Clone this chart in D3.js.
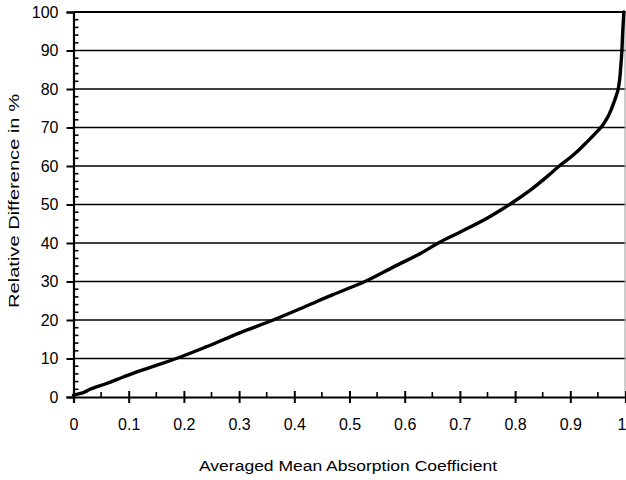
<!DOCTYPE html>
<html>
<head>
<meta charset="utf-8">
<script src="https://cdn.jsdelivr.net/npm/d3@7/dist/d3.min.js"></script>
<style>
  html, body { margin: 0; padding: 0; background: #fff; }
  svg { display: block; font-family: "Liberation Sans", Arial, Helvetica, sans-serif; }
</style>
</head>
<body>
<svg id="chart" width="626" height="480"></svg>
<script>
// Cumulative curve: relative difference (%) vs averaged mean absorption coefficient
const absorptionCoef = [0, 0.015, 0.03, 0.06, 0.09, 0.12, 0.15, 0.19, 0.24, 0.30, 0.362,
  0.42, 0.47, 0.528, 0.58, 0.63, 0.661, 0.70, 0.75, 0.79, 0.83, 0.86, 0.88, 0.90,
  0.915, 0.93, 0.945, 0.957, 0.967, 0.975, 0.981, 0.986, 0.989, 0.991, 0.9935, 0.995, 0.997];
const relativeDiff = [0.5, 1.0, 2.0, 3.5, 5.2, 6.8, 8.2, 10.2, 13.0, 16.6, 20,
  23.5, 26.6, 30, 33.8, 37.4, 40, 42.8, 46.5, 50, 54, 57.5, 60, 62.2,
  64.1, 66.2, 68.4, 70.3, 72.5, 75, 77.3, 79.5, 82, 85, 90, 95, 100];

const xTicks = [0, 0.1, 0.2, 0.3, 0.4, 0.5, 0.6, 0.7, 0.8, 0.9, 1];
const xTickLabels = ["0", "0.1", "0.2", "0.3", "0.4", "0.5", "0.6", "0.7", "0.8", "0.9", "1"];
const yTicks = [0, 10, 20, 30, 40, 50, 60, 70, 80, 90, 100];

const xTitle = "Averaged Mean Absorption Coefficient";
const yTitle = "Relative Difference in  %";

(function draw() {
  const svg = d3.select("#chart");
  const plotL = 73.5, plotR = 625.5, plotT = 12, plotB = 397;

  const x = d3.scaleLinear().domain([0, 1]).range([plotL, plotR]);
  const y = d3.scaleLinear().domain([0, 100]).range([plotB, plotT]);

  // horizontal gridlines
  svg.append("g").selectAll("line")
    .data(yTicks.filter(d => d > 0 && d < 100))
    .join("line")
    .attr("x1", plotL).attr("x2", plotR)
    .attr("y1", d => y(d)).attr("y2", d => y(d))
    .attr("stroke", "#000").attr("stroke-width", 1.5);

  // top frame line and thin right frame line
  svg.append("line").attr("x1", plotL).attr("x2", plotR)
    .attr("y1", y(100)).attr("y2", y(100))
    .attr("stroke", "#000").attr("stroke-width", 2.2);
  svg.append("line").attr("x1", plotR - 0.5).attr("x2", plotR - 0.5)
    .attr("y1", plotT).attr("y2", plotB)
    .attr("stroke", "#999").attr("stroke-width", 1);

  // y axis: major ticks outside, minor ticks inside every 2 %
  const yAxis = svg.append("g").attr("transform", `translate(${plotL},0)`)
    .call(d3.axisLeft(y).tickValues(yTicks).tickSize(7).tickPadding(8).tickFormat(d3.format("d")));
  yAxis.select(".domain").attr("stroke-width", 2.2);
  yAxis.selectAll(".tick line").attr("stroke-width", 2);
  yAxis.selectAll(".tick text").attr("font-size", 16).attr("fill", "#000")
    .attr("font-family", "Liberation Sans, Arial, sans-serif");

  const yMinor = d3.range(0, 101, 2).filter(d => d % 10 !== 0);
  svg.append("g").selectAll("line").data(yMinor).join("line")
    .attr("x1", plotL).attr("x2", plotL + 5)
    .attr("y1", d => y(d)).attr("y2", d => y(d))
    .attr("stroke", "#000").attr("stroke-width", 1.6);

  // x axis: major ticks cross the axis, minor ticks point up
  const xAxis = svg.append("g").attr("transform", `translate(0,${plotB})`)
    .call(d3.axisBottom(x).tickValues(xTicks).tickSize(6).tickPadding(16)
      .tickFormat((d, i) => xTickLabels[i]));
  xAxis.select(".domain").attr("stroke-width", 2.2);
  xAxis.selectAll(".tick line").attr("y1", -6).attr("stroke-width", 2);
  xAxis.selectAll(".tick text").attr("font-size", 16).attr("fill", "#000")
    .attr("font-family", "Liberation Sans, Arial, sans-serif");
  // keep the last label inside the page edge
  xAxis.selectAll(".tick text").filter(d => d === 1)
    .attr("text-anchor", "end").attr("x", 626 - x(1));

  const xMinor = d3.range(0.05, 1, 0.1);
  svg.append("g").selectAll("line").data(xMinor).join("line")
    .attr("x1", d => x(d)).attr("x2", d => x(d))
    .attr("y1", plotB).attr("y2", plotB - 5)
    .attr("stroke", "#000").attr("stroke-width", 1.6);

  // the curve
  const pts = absorptionCoef.map((c, i) => [c, relativeDiff[i]]);
  const line = d3.line().x(d => x(d[0])).y(d => y(d[1])).curve(d3.curveMonotoneY);
  svg.append("path").datum(pts)
    .attr("d", line)
    .attr("fill", "none").attr("stroke", "#000")
    .attr("stroke-width", 3.4).attr("stroke-linejoin", "round").attr("stroke-linecap", "round");

  // axis titles
  svg.append("text").text(xTitle)
    .attr("x", 348).attr("y", 471).attr("text-anchor", "middle")
    .attr("font-size", 14).attr("textLength", 298).attr("lengthAdjust", "spacingAndGlyphs")
    .attr("fill", "#000");
  svg.append("text").text(yTitle)
    .attr("transform", "translate(19,201) rotate(-90)").attr("text-anchor", "middle")
    .attr("font-size", 14).attr("textLength", 214).attr("lengthAdjust", "spacingAndGlyphs")
    .attr("fill", "#000");
})();
</script>
</body>
</html>
